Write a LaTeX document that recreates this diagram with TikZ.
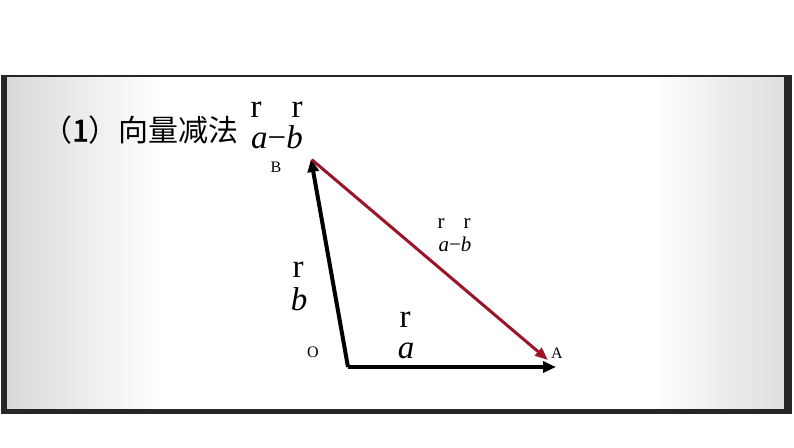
\documentclass[tikz,border=0pt]{standalone}
\usepackage{fontspec}
\setmainfont{Liberation Serif}
\newfontfamily\cjk[AutoFakeBold=2]{Noto Sans CJK SC}
\usetikzlibrary{arrows.meta}
\definecolor{vred}{RGB}{155,20,40}
\tikzset{
  vec/.style={line width=4pt,-{Triangle[length=13pt,width=11pt]}},
  redvec/.style={line width=3pt,draw=vred,-{Triangle[length=13pt,width=10pt]},shorten <=1pt},
  lbl/.style={inner sep=0pt,font=\fontsize{16}{16}\selectfont},
  big/.style={inner sep=0pt,font=\fontsize{33}{33}\selectfont},
  small/.style={inner sep=0pt,font=\fontsize{21}{21}\selectfont},
  title/.style={inner sep=0pt,anchor=west,font=\fontsize{30}{30}\selectfont\cjk},
  edge/.style={fill=black!85}
}
\begin{document}
\begin{tikzpicture}[x=1pt,y=-1pt]
\useasboundingbox (0,0) rectangle (794,447);
% frame background
\fill[white] (7,77) rectangle (784,409);
\shade[left color=black!15,right color=white] (7,77) rectangle (160,409);
\shade[left color=white,right color=black!13] (650,77) rectangle (784,409);
\fill[white] (0,409) rectangle (794,447);
\fill[white] (0,0) rectangle (794,75);
% frame border
\fill[edge] (1,75) rectangle (792,77);
\fill[edge] (1,75) rectangle (7,414);
\fill[edge] (784,75) rectangle (792,414);
\fill[edge] (1,409) rectangle (792,414);
% title
\node[title] (t1) at (42,130) {（\textbf{1}）向量减法};
\node[big] (tra) at (256,110) {r};
\node[big] (trb) at (297,110) {r};
\node[big,anchor=base] (tab) at (277,148) {\textit{a}−\textit{b}};
% points
\coordinate (O) at (348,367);
\coordinate (B) at (311,159);
\coordinate (A) at (556,367);
\coordinate (Ar) at (548,360);
% vectors
\draw[vec] (O) -- (B);
\draw[vec] (O) -- (A);
\draw[redvec] (B) -- (Ar);
% point labels
\node[lbl] (lB) at (276,167) {B};
\node[lbl] (lO) at (313,352) {O};
\node[lbl] (lA) at (557,353) {A};
% vector labels
\node[big] (rb) at (298,270) {r};
\node[big,anchor=base] (lb) at (299,310) {\textit{b}};
\node[big] (ra) at (405,320) {r};
\node[big,anchor=base] (la) at (406,358) {\textit{a}};
\node[small] (rr1) at (441,224) {r};
\node[small] (rr2) at (467,224) {r};
\node[small,anchor=base] (lab) at (455,251) {\textit{a}−\textit{b}};
\end{tikzpicture}
\end{document}
